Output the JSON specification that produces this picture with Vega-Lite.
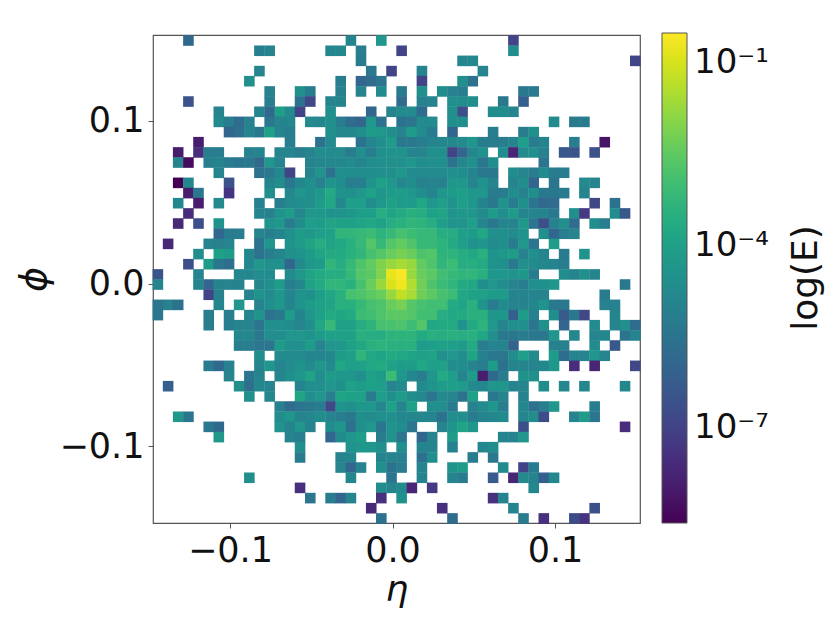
{"$schema":"https://vega.github.io/schema/vega-lite/v6.json","width":487,"height":488,"autosize":{"type":"none"},"padding":{"left":153,"top":35,"right":190,"bottom":119},"background":"white","view":{"stroke":"#555","strokeWidth":1.2,"fill":"white"},"data":{"values":[
{"x":-0.1256,"y":0.1494,"e":-5.9},{"x":-0.0256,"y":0.1494,"e":-5},{"x":-0.0069,"y":0.1494,"e":-4.4},{"x":0.0744,"y":0.1494,"e":-7},
{"x":-0.0819,"y":0.1431,"e":-5.2},{"x":-0.0756,"y":0.1431,"e":-5},{"x":-0.0381,"y":0.1431,"e":-4.9},{"x":-0.0319,"y":0.1431,"e":-4.9},{"x":-0.0194,"y":0.1431,"e":-5.2},{"x":0.0056,"y":0.1431,"e":-7},{"x":0.0744,"y":0.1431,"e":-4.7},
{"x":-0.0194,"y":0.1369,"e":-5.3},{"x":0.0431,"y":0.1369,"e":-4.9},{"x":0.0494,"y":0.1369,"e":-4.9},{"x":0.1494,"y":0.1369,"e":-7},
{"x":-0.0819,"y":0.1306,"e":-5},{"x":-0.0131,"y":0.1306,"e":-5.4},{"x":-0.0006,"y":0.1306,"e":-7},{"x":0.0181,"y":0.1306,"e":-5},{"x":0.0556,"y":0.1306,"e":-5},
{"x":-0.0881,"y":0.1244,"e":-4.6},{"x":-0.0319,"y":0.1244,"e":-5.2},{"x":-0.0194,"y":0.1244,"e":-6},{"x":-0.0131,"y":0.1244,"e":-5.8},{"x":-0.0069,"y":0.1244,"e":-5.5},{"x":0.0181,"y":0.1244,"e":-7},{"x":0.0431,"y":0.1244,"e":-4.6},{"x":0.0494,"y":0.1244,"e":-5.6},
{"x":-0.0756,"y":0.1181,"e":-5.1},{"x":-0.0569,"y":0.1181,"e":-4.6},{"x":-0.0506,"y":0.1181,"e":-5.3},{"x":-0.0319,"y":0.1181,"e":-5.1},{"x":-0.0194,"y":0.1181,"e":-5},{"x":-0.0069,"y":0.1181,"e":-4.8},{"x":0.0056,"y":0.1181,"e":-5.3},{"x":0.0181,"y":0.1181,"e":-4.6},{"x":0.0306,"y":0.1181,"e":-4.7},{"x":0.0369,"y":0.1181,"e":-5.1},{"x":0.0431,"y":0.1181,"e":-5.2},{"x":0.0806,"y":0.1181,"e":-5.4},{"x":0.0869,"y":0.1181,"e":-5.3},
{"x":-0.1256,"y":0.1119,"e":-6.6},{"x":-0.0756,"y":0.1119,"e":-5.2},{"x":-0.0569,"y":0.1119,"e":-5.6},{"x":-0.0506,"y":0.1119,"e":-6.9},{"x":-0.0381,"y":0.1119,"e":-5},{"x":-0.0319,"y":0.1119,"e":-5},{"x":0.0056,"y":0.1119,"e":-5.8},{"x":0.0181,"y":0.1119,"e":-5.1},{"x":0.0244,"y":0.1119,"e":-5},{"x":0.0369,"y":0.1119,"e":-4.6},{"x":0.0431,"y":0.1119,"e":-4.7},{"x":0.0494,"y":0.1119,"e":-4.7},{"x":0.0681,"y":0.1119,"e":-5.4},{"x":0.0806,"y":0.1119,"e":-6.2},
{"x":-0.1069,"y":0.1056,"e":-5},{"x":-0.0819,"y":0.1056,"e":-5},{"x":-0.0756,"y":0.1056,"e":-5.9},{"x":-0.0694,"y":0.1056,"e":-4.1},{"x":-0.0631,"y":0.1056,"e":-4.8},{"x":-0.0569,"y":0.1056,"e":-7},{"x":-0.0381,"y":0.1056,"e":-4.6},{"x":-0.0131,"y":0.1056,"e":-6},{"x":-0.0006,"y":0.1056,"e":-5},{"x":0.0056,"y":0.1056,"e":-4.8},{"x":0.0119,"y":0.1056,"e":-4.8},{"x":0.0181,"y":0.1056,"e":-5.8},{"x":0.0369,"y":0.1056,"e":-4.6},{"x":0.0431,"y":0.1056,"e":-6.7},{"x":0.0619,"y":0.1056,"e":-4.7},{"x":0.0681,"y":0.1056,"e":-4.7},{"x":0.0744,"y":0.1056,"e":-5},
{"x":-0.1069,"y":0.0994,"e":-4.8},{"x":-0.1006,"y":0.0994,"e":-5.2},{"x":-0.0944,"y":0.0994,"e":-5.8},{"x":-0.0881,"y":0.0994,"e":-5.1},{"x":-0.0756,"y":0.0994,"e":-5.5},{"x":-0.0694,"y":0.0994,"e":-5},{"x":-0.0631,"y":0.0994,"e":-4.9},{"x":-0.0506,"y":0.0994,"e":-4.8},{"x":-0.0444,"y":0.0994,"e":-4.9},{"x":-0.0381,"y":0.0994,"e":-4.6},{"x":-0.0319,"y":0.0994,"e":-5.3},{"x":-0.0256,"y":0.0994,"e":-5.8},{"x":-0.0194,"y":0.0994,"e":-6},{"x":-0.0131,"y":0.0994,"e":-4.4},{"x":-0.0069,"y":0.0994,"e":-5.6},{"x":0.0056,"y":0.0994,"e":-5.6},{"x":0.0119,"y":0.0994,"e":-5.5},{"x":0.0181,"y":0.0994,"e":-4.8},{"x":0.0244,"y":0.0994,"e":-4.8},{"x":0.0369,"y":0.0994,"e":-4.6},{"x":0.0431,"y":0.0994,"e":-4.6},{"x":0.0994,"y":0.0994,"e":-4.8},{"x":0.1119,"y":0.0994,"e":-5.3},{"x":0.1181,"y":0.0994,"e":-5.3},
{"x":-0.1006,"y":0.0931,"e":-6},{"x":-0.0944,"y":0.0931,"e":-5.7},{"x":-0.0881,"y":0.0931,"e":-5},{"x":-0.0819,"y":0.0931,"e":-5.4},{"x":-0.0756,"y":0.0931,"e":-4},{"x":-0.0694,"y":0.0931,"e":-5},{"x":-0.0631,"y":0.0931,"e":-5.2},{"x":-0.0381,"y":0.0931,"e":-4.6},{"x":-0.0319,"y":0.0931,"e":-4.9},{"x":-0.0256,"y":0.0931,"e":-4.9},{"x":-0.0194,"y":0.0931,"e":-4.7},{"x":-0.0131,"y":0.0931,"e":-4.2},{"x":-0.0069,"y":0.0931,"e":-4.3},{"x":-0.0006,"y":0.0931,"e":-4.7},{"x":0.0056,"y":0.0931,"e":-5},{"x":0.0119,"y":0.0931,"e":-4.2},{"x":0.0181,"y":0.0931,"e":-4.8},{"x":0.0244,"y":0.0931,"e":-5.3},{"x":0.0369,"y":0.0931,"e":-6},{"x":0.0619,"y":0.0931,"e":-5.2},{"x":0.0806,"y":0.0931,"e":-5.3},{"x":0.0869,"y":0.0931,"e":-4.6},
{"x":-0.1194,"y":0.0869,"e":-8},{"x":-0.0631,"y":0.0869,"e":-5.2},{"x":-0.0444,"y":0.0869,"e":-5.6},{"x":-0.0381,"y":0.0869,"e":-4.8},{"x":-0.0194,"y":0.0869,"e":-5.6},{"x":-0.0131,"y":0.0869,"e":-5},{"x":-0.0069,"y":0.0869,"e":-4.6},{"x":-0.0006,"y":0.0869,"e":-4.2},{"x":0.0056,"y":0.0869,"e":-5.4},{"x":0.0119,"y":0.0869,"e":-5.4},{"x":0.0181,"y":0.0869,"e":-5.2},{"x":0.0244,"y":0.0869,"e":-5},{"x":0.0306,"y":0.0869,"e":-4.9},{"x":0.0369,"y":0.0869,"e":-4.9},{"x":0.0431,"y":0.0869,"e":-4.8},{"x":0.0494,"y":0.0869,"e":-4.4},{"x":0.0556,"y":0.0869,"e":-5.3},{"x":0.0619,"y":0.0869,"e":-5.3},{"x":0.0681,"y":0.0869,"e":-5.2},{"x":0.0744,"y":0.0869,"e":-5},{"x":0.0806,"y":0.0869,"e":-4.1},{"x":0.0869,"y":0.0869,"e":-5.3},{"x":0.0931,"y":0.0869,"e":-5},{"x":0.1119,"y":0.0869,"e":-5.2},{"x":0.1306,"y":0.0869,"e":-8.2},
{"x":-0.1319,"y":0.0806,"e":-8},{"x":-0.1194,"y":0.0806,"e":-7.6},{"x":-0.1131,"y":0.0806,"e":-5.2},{"x":-0.1069,"y":0.0806,"e":-5.2},{"x":-0.0881,"y":0.0806,"e":-5.1},{"x":-0.0819,"y":0.0806,"e":-5},{"x":-0.0694,"y":0.0806,"e":-5},{"x":-0.0631,"y":0.0806,"e":-5},{"x":-0.0569,"y":0.0806,"e":-5.2},{"x":-0.0506,"y":0.0806,"e":-5},{"x":-0.0444,"y":0.0806,"e":-4.7},{"x":-0.0381,"y":0.0806,"e":-4.8},{"x":-0.0319,"y":0.0806,"e":-4.8},{"x":-0.0256,"y":0.0806,"e":-5.3},{"x":-0.0194,"y":0.0806,"e":-4.7},{"x":-0.0131,"y":0.0806,"e":-5.2},{"x":-0.0069,"y":0.0806,"e":-4.6},{"x":-0.0006,"y":0.0806,"e":-4.5},{"x":0.0056,"y":0.0806,"e":-4.5},{"x":0.0119,"y":0.0806,"e":-5},{"x":0.0181,"y":0.0806,"e":-5},{"x":0.0244,"y":0.0806,"e":-4.6},{"x":0.0306,"y":0.0806,"e":-4.6},{"x":0.0369,"y":0.0806,"e":-7},{"x":0.0431,"y":0.0806,"e":-6},{"x":0.0494,"y":0.0806,"e":-4.9},{"x":0.0556,"y":0.0806,"e":-4.5},{"x":0.0681,"y":0.0806,"e":-4.7},{"x":0.0744,"y":0.0806,"e":-7.8},{"x":0.0806,"y":0.0806,"e":-4.8},{"x":0.0869,"y":0.0806,"e":-4.6},{"x":0.0931,"y":0.0806,"e":-5.1},{"x":0.1056,"y":0.0806,"e":-6.4},{"x":0.1119,"y":0.0806,"e":-6.6},{"x":0.1244,"y":0.0806,"e":-6.6},
{"x":-0.1319,"y":0.0744,"e":-5},{"x":-0.1256,"y":0.0744,"e":-8.4},{"x":-0.1131,"y":0.0744,"e":-5.2},{"x":-0.1069,"y":0.0744,"e":-5},{"x":-0.1006,"y":0.0744,"e":-5.3},{"x":-0.0944,"y":0.0744,"e":-5.5},{"x":-0.0881,"y":0.0744,"e":-5.4},{"x":-0.0819,"y":0.0744,"e":-5.9},{"x":-0.0756,"y":0.0744,"e":-4.4},{"x":-0.0694,"y":0.0744,"e":-5},{"x":-0.0506,"y":0.0744,"e":-5},{"x":-0.0444,"y":0.0744,"e":-4.9},{"x":-0.0381,"y":0.0744,"e":-4.9},{"x":-0.0319,"y":0.0744,"e":-4.9},{"x":-0.0256,"y":0.0744,"e":-4.8},{"x":-0.0194,"y":0.0744,"e":-5},{"x":-0.0131,"y":0.0744,"e":-4.7},{"x":-0.0069,"y":0.0744,"e":-4.6},{"x":-0.0006,"y":0.0744,"e":-4.6},{"x":0.0056,"y":0.0744,"e":-4.6},{"x":0.0119,"y":0.0744,"e":-4.4},{"x":0.0181,"y":0.0744,"e":-4.7},{"x":0.0244,"y":0.0744,"e":-4.6},{"x":0.0306,"y":0.0744,"e":-4.6},{"x":0.0369,"y":0.0744,"e":-5.6},{"x":0.0431,"y":0.0744,"e":-4.9},{"x":0.0494,"y":0.0744,"e":-4.6},{"x":0.0556,"y":0.0744,"e":-5.5},{"x":0.0619,"y":0.0744,"e":-4.7},{"x":0.0931,"y":0.0744,"e":-5.5},
{"x":-0.1069,"y":0.0681,"e":-5},{"x":-0.0819,"y":0.0681,"e":-5.6},{"x":-0.0756,"y":0.0681,"e":-5.4},{"x":-0.0694,"y":0.0681,"e":-4.9},{"x":-0.0631,"y":0.0681,"e":-7},{"x":-0.0506,"y":0.0681,"e":-5},{"x":-0.0444,"y":0.0681,"e":-4.5},{"x":-0.0381,"y":0.0681,"e":-5.6},{"x":-0.0319,"y":0.0681,"e":-4.6},{"x":-0.0256,"y":0.0681,"e":-4.7},{"x":-0.0194,"y":0.0681,"e":-4.7},{"x":-0.0131,"y":0.0681,"e":-4.7},{"x":-0.0069,"y":0.0681,"e":-4.6},{"x":-0.0006,"y":0.0681,"e":-4.6},{"x":0.0056,"y":0.0681,"e":-4.3},{"x":0.0119,"y":0.0681,"e":-4.8},{"x":0.0181,"y":0.0681,"e":-4.8},{"x":0.0244,"y":0.0681,"e":-4.8},{"x":0.0306,"y":0.0681,"e":-4.8},{"x":0.0369,"y":0.0681,"e":-4.6},{"x":0.0431,"y":0.0681,"e":-4.7},{"x":0.0494,"y":0.0681,"e":-5},{"x":0.0556,"y":0.0681,"e":-5.4},{"x":0.0619,"y":0.0681,"e":-5.4},{"x":0.0744,"y":0.0681,"e":-4.7},{"x":0.0806,"y":0.0681,"e":-5},{"x":0.0869,"y":0.0681,"e":-5.2},{"x":0.0931,"y":0.0681,"e":-4.8},{"x":0.0994,"y":0.0681,"e":-5.3},{"x":0.1056,"y":0.0681,"e":-5.2},
{"x":-0.1319,"y":0.0619,"e":-8.6},{"x":-0.1256,"y":0.0619,"e":-4.9},{"x":-0.1006,"y":0.0619,"e":-6.6},{"x":-0.0756,"y":0.0619,"e":-5},{"x":-0.0694,"y":0.0619,"e":-4.7},{"x":-0.0631,"y":0.0619,"e":-5.5},{"x":-0.0569,"y":0.0619,"e":-4.9},{"x":-0.0506,"y":0.0619,"e":-4.6},{"x":-0.0444,"y":0.0619,"e":-5.1},{"x":-0.0381,"y":0.0619,"e":-4.5},{"x":-0.0319,"y":0.0619,"e":-4.7},{"x":-0.0256,"y":0.0619,"e":-5.2},{"x":-0.0194,"y":0.0619,"e":-5.2},{"x":-0.0131,"y":0.0619,"e":-4.5},{"x":-0.0069,"y":0.0619,"e":-4},{"x":-0.0006,"y":0.0619,"e":-4.4},{"x":0.0056,"y":0.0619,"e":-4.9},{"x":0.0119,"y":0.0619,"e":-4.7},{"x":0.0181,"y":0.0619,"e":-5.1},{"x":0.0244,"y":0.0619,"e":-5},{"x":0.0306,"y":0.0619,"e":-5.1},{"x":0.0369,"y":0.0619,"e":-4.4},{"x":0.0431,"y":0.0619,"e":-4.4},{"x":0.0494,"y":0.0619,"e":-5},{"x":0.0556,"y":0.0619,"e":-4.5},{"x":0.0619,"y":0.0619,"e":-5},{"x":0.0744,"y":0.0619,"e":-5},{"x":0.0806,"y":0.0619,"e":-4.7},{"x":0.0869,"y":0.0619,"e":-6},{"x":0.0994,"y":0.0619,"e":-5.5},{"x":0.1181,"y":0.0619,"e":-4.8},{"x":0.1244,"y":0.0619,"e":-5},
{"x":-0.1256,"y":0.0556,"e":-8},{"x":-0.1194,"y":0.0556,"e":-5.4},{"x":-0.1006,"y":0.0556,"e":-7.4},{"x":-0.0756,"y":0.0556,"e":-4.6},{"x":-0.0631,"y":0.0556,"e":-4.9},{"x":-0.0569,"y":0.0556,"e":-4.4},{"x":-0.0506,"y":0.0556,"e":-4.6},{"x":-0.0444,"y":0.0556,"e":-4.3},{"x":-0.0381,"y":0.0556,"e":-3.7},{"x":-0.0319,"y":0.0556,"e":-4.5},{"x":-0.0256,"y":0.0556,"e":-4.6},{"x":-0.0194,"y":0.0556,"e":-4.4},{"x":-0.0131,"y":0.0556,"e":-4},{"x":-0.0069,"y":0.0556,"e":-4.4},{"x":-0.0006,"y":0.0556,"e":-4.2},{"x":0.0056,"y":0.0556,"e":-4.2},{"x":0.0119,"y":0.0556,"e":-4.4},{"x":0.0181,"y":0.0556,"e":-4.7},{"x":0.0244,"y":0.0556,"e":-5},{"x":0.0306,"y":0.0556,"e":-4.4},{"x":0.0369,"y":0.0556,"e":-4.2},{"x":0.0431,"y":0.0556,"e":-4.1},{"x":0.0494,"y":0.0556,"e":-4.4},{"x":0.0556,"y":0.0556,"e":-4.4},{"x":0.0619,"y":0.0556,"e":-5.3},{"x":0.0681,"y":0.0556,"e":-5.3},{"x":0.0744,"y":0.0556,"e":-4.7},{"x":0.0806,"y":0.0556,"e":-5.1},{"x":0.0869,"y":0.0556,"e":-4.6},{"x":0.0931,"y":0.0556,"e":-5.4},{"x":0.0994,"y":0.0556,"e":-5.4},{"x":0.1056,"y":0.0556,"e":-5.3},{"x":0.1181,"y":0.0556,"e":-5},
{"x":-0.1319,"y":0.0494,"e":-4.9},{"x":-0.1194,"y":0.0494,"e":-8},{"x":-0.1069,"y":0.0494,"e":-4.8},{"x":-0.0819,"y":0.0494,"e":-5.1},{"x":-0.0694,"y":0.0494,"e":-5.2},{"x":-0.0631,"y":0.0494,"e":-4.8},{"x":-0.0569,"y":0.0494,"e":-4.7},{"x":-0.0506,"y":0.0494,"e":-4.6},{"x":-0.0444,"y":0.0494,"e":-4.2},{"x":-0.0381,"y":0.0494,"e":-3.8},{"x":-0.0319,"y":0.0494,"e":-4.9},{"x":-0.0256,"y":0.0494,"e":-4.1},{"x":-0.0194,"y":0.0494,"e":-4.1},{"x":-0.0131,"y":0.0494,"e":-4.7},{"x":-0.0069,"y":0.0494,"e":-4.3},{"x":-0.0006,"y":0.0494,"e":-4},{"x":0.0056,"y":0.0494,"e":-4.2},{"x":0.0119,"y":0.0494,"e":-4.2},{"x":0.0181,"y":0.0494,"e":-3.8},{"x":0.0244,"y":0.0494,"e":-4.4},{"x":0.0306,"y":0.0494,"e":-4.1},{"x":0.0369,"y":0.0494,"e":-4.5},{"x":0.0431,"y":0.0494,"e":-4.1},{"x":0.0494,"y":0.0494,"e":-4.4},{"x":0.0556,"y":0.0494,"e":-5},{"x":0.0619,"y":0.0494,"e":-5.4},{"x":0.0681,"y":0.0494,"e":-4.5},{"x":0.0744,"y":0.0494,"e":-5.2},{"x":0.0806,"y":0.0494,"e":-4.6},{"x":0.0869,"y":0.0494,"e":-5.5},{"x":0.0931,"y":0.0494,"e":-5.9},{"x":0.0994,"y":0.0494,"e":-5.8},{"x":0.1244,"y":0.0494,"e":-6.9},{"x":0.1369,"y":0.0494,"e":-5.6},
{"x":-0.1256,"y":0.0431,"e":-7.6},{"x":-0.0819,"y":0.0431,"e":-5},{"x":-0.0756,"y":0.0431,"e":-5.1},{"x":-0.0694,"y":0.0431,"e":-4.5},{"x":-0.0631,"y":0.0431,"e":-4.2},{"x":-0.0569,"y":0.0431,"e":-4.9},{"x":-0.0506,"y":0.0431,"e":-4.3},{"x":-0.0444,"y":0.0431,"e":-4.3},{"x":-0.0381,"y":0.0431,"e":-4.5},{"x":-0.0319,"y":0.0431,"e":-4.5},{"x":-0.0256,"y":0.0431,"e":-4.3},{"x":-0.0194,"y":0.0431,"e":-4.1},{"x":-0.0131,"y":0.0431,"e":-4.1},{"x":-0.0069,"y":0.0431,"e":-3.6},{"x":-0.0006,"y":0.0431,"e":-3.9},{"x":0.0056,"y":0.0431,"e":-3.7},{"x":0.0119,"y":0.0431,"e":-3.5},{"x":0.0181,"y":0.0431,"e":-3.6},{"x":0.0244,"y":0.0431,"e":-4},{"x":0.0306,"y":0.0431,"e":-3.9},{"x":0.0369,"y":0.0431,"e":-4.5},{"x":0.0431,"y":0.0431,"e":-4.3},{"x":0.0494,"y":0.0431,"e":-4.4},{"x":0.0556,"y":0.0431,"e":-4.8},{"x":0.0619,"y":0.0431,"e":-4.2},{"x":0.0681,"y":0.0431,"e":-4.7},{"x":0.0744,"y":0.0431,"e":-4.2},{"x":0.0806,"y":0.0431,"e":-5},{"x":0.0869,"y":0.0431,"e":-5},{"x":0.0931,"y":0.0431,"e":-5},{"x":0.0994,"y":0.0431,"e":-5.4},{"x":0.1119,"y":0.0431,"e":-4.6},{"x":0.1181,"y":0.0431,"e":-7.3},{"x":0.1369,"y":0.0431,"e":-4.7},{"x":0.1431,"y":0.0431,"e":-6.4},
{"x":-0.1319,"y":0.0369,"e":-7.7},{"x":-0.1194,"y":0.0369,"e":-6.7},{"x":-0.1069,"y":0.0369,"e":-4.5},{"x":-0.0756,"y":0.0369,"e":-4.5},{"x":-0.0694,"y":0.0369,"e":-4.3},{"x":-0.0631,"y":0.0369,"e":-5.3},{"x":-0.0569,"y":0.0369,"e":-4.7},{"x":-0.0506,"y":0.0369,"e":-4.1},{"x":-0.0444,"y":0.0369,"e":-4.2},{"x":-0.0381,"y":0.0369,"e":-3.9},{"x":-0.0319,"y":0.0369,"e":-4},{"x":-0.0256,"y":0.0369,"e":-4},{"x":-0.0194,"y":0.0369,"e":-3.9},{"x":-0.0131,"y":0.0369,"e":-3.8},{"x":-0.0069,"y":0.0369,"e":-4},{"x":-0.0006,"y":0.0369,"e":-3.6},{"x":0.0056,"y":0.0369,"e":-3.5},{"x":0.0119,"y":0.0369,"e":-3.3},{"x":0.0181,"y":0.0369,"e":-3.4},{"x":0.0244,"y":0.0369,"e":-3.6},{"x":0.0306,"y":0.0369,"e":-4.1},{"x":0.0369,"y":0.0369,"e":-4.5},{"x":0.0431,"y":0.0369,"e":-4.5},{"x":0.0494,"y":0.0369,"e":-4.1},{"x":0.0556,"y":0.0369,"e":-5},{"x":0.0619,"y":0.0369,"e":-5.4},{"x":0.0681,"y":0.0369,"e":-5},{"x":0.0744,"y":0.0369,"e":-5},{"x":0.0806,"y":0.0369,"e":-4.3},{"x":0.0869,"y":0.0369,"e":-5.5},{"x":0.0931,"y":0.0369,"e":-6.7},{"x":0.0994,"y":0.0369,"e":-5.1},{"x":0.1056,"y":0.0369,"e":-4.6},{"x":0.1119,"y":0.0369,"e":-5.8},{"x":0.1244,"y":0.0369,"e":-4.7},{"x":0.1306,"y":0.0369,"e":-5.2},
{"x":-0.1069,"y":0.0306,"e":-6},{"x":-0.1006,"y":0.0306,"e":-5.3},{"x":-0.0944,"y":0.0306,"e":-5.2},{"x":-0.0819,"y":0.0306,"e":-5},{"x":-0.0756,"y":0.0306,"e":-5.2},{"x":-0.0694,"y":0.0306,"e":-5},{"x":-0.0631,"y":0.0306,"e":-4.6},{"x":-0.0569,"y":0.0306,"e":-4.2},{"x":-0.0506,"y":0.0306,"e":-4.3},{"x":-0.0444,"y":0.0306,"e":-4.1},{"x":-0.0381,"y":0.0306,"e":-4},{"x":-0.0319,"y":0.0306,"e":-3.3},{"x":-0.0256,"y":0.0306,"e":-3.3},{"x":-0.0194,"y":0.0306,"e":-3.2},{"x":-0.0131,"y":0.0306,"e":-3.1},{"x":-0.0069,"y":0.0306,"e":-3.4},{"x":-0.0006,"y":0.0306,"e":-3.2},{"x":0.0056,"y":0.0306,"e":-2.9},{"x":0.0119,"y":0.0306,"e":-3.1},{"x":0.0181,"y":0.0306,"e":-3.2},{"x":0.0244,"y":0.0306,"e":-3.2},{"x":0.0306,"y":0.0306,"e":-3.6},{"x":0.0369,"y":0.0306,"e":-3.6},{"x":0.0431,"y":0.0306,"e":-4.1},{"x":0.0494,"y":0.0306,"e":-4.2},{"x":0.0556,"y":0.0306,"e":-3.8},{"x":0.0619,"y":0.0306,"e":-4.6},{"x":0.0681,"y":0.0306,"e":-4.6},{"x":0.0744,"y":0.0306,"e":-4.8},{"x":0.0806,"y":0.0306,"e":-4.5},{"x":0.0931,"y":0.0306,"e":-4.6},{"x":0.0994,"y":0.0306,"e":-6},{"x":0.1056,"y":0.0306,"e":-5.2},{"x":0.1119,"y":0.0306,"e":-5},
{"x":-0.1381,"y":0.0244,"e":-7.7},{"x":-0.1131,"y":0.0244,"e":-5},{"x":-0.1069,"y":0.0244,"e":-5.1},{"x":-0.1006,"y":0.0244,"e":-5},{"x":-0.0819,"y":0.0244,"e":-5.6},{"x":-0.0756,"y":0.0244,"e":-4.4},{"x":-0.0631,"y":0.0244,"e":-4.5},{"x":-0.0569,"y":0.0244,"e":-4.2},{"x":-0.0506,"y":0.0244,"e":-3.9},{"x":-0.0444,"y":0.0244,"e":-3.6},{"x":-0.0381,"y":0.0244,"e":-3.9},{"x":-0.0319,"y":0.0244,"e":-3.8},{"x":-0.0256,"y":0.0244,"e":-3.5},{"x":-0.0194,"y":0.0244,"e":-3.2},{"x":-0.0131,"y":0.0244,"e":-2.7},{"x":-0.0069,"y":0.0244,"e":-3.2},{"x":-0.0006,"y":0.0244,"e":-2.7},{"x":0.0056,"y":0.0244,"e":-2.5},{"x":0.0119,"y":0.0244,"e":-2.8},{"x":0.0181,"y":0.0244,"e":-3.2},{"x":0.0244,"y":0.0244,"e":-3.2},{"x":0.0306,"y":0.0244,"e":-3.4},{"x":0.0369,"y":0.0244,"e":-3.7},{"x":0.0431,"y":0.0244,"e":-4.1},{"x":0.0494,"y":0.0244,"e":-4.5},{"x":0.0556,"y":0.0244,"e":-4.4},{"x":0.0619,"y":0.0244,"e":-4.8},{"x":0.0681,"y":0.0244,"e":-4.6},{"x":0.0744,"y":0.0244,"e":-5.3},{"x":0.0806,"y":0.0244,"e":-4.4},{"x":0.0869,"y":0.0244,"e":-5.5},{"x":0.0994,"y":0.0244,"e":-4.2},
{"x":-0.1194,"y":0.0181,"e":-4.7},{"x":-0.1069,"y":0.0181,"e":-4},{"x":-0.1006,"y":0.0181,"e":-4.2},{"x":-0.0881,"y":0.0181,"e":-4.9},{"x":-0.0819,"y":0.0181,"e":-5.6},{"x":-0.0756,"y":0.0181,"e":-5.2},{"x":-0.0694,"y":0.0181,"e":-5},{"x":-0.0631,"y":0.0181,"e":-4.6},{"x":-0.0569,"y":0.0181,"e":-4.5},{"x":-0.0506,"y":0.0181,"e":-4.2},{"x":-0.0444,"y":0.0181,"e":-3.9},{"x":-0.0381,"y":0.0181,"e":-3.7},{"x":-0.0319,"y":0.0181,"e":-3.7},{"x":-0.0256,"y":0.0181,"e":-3.5},{"x":-0.0194,"y":0.0181,"e":-3.3},{"x":-0.0131,"y":0.0181,"e":-2.9},{"x":-0.0069,"y":0.0181,"e":-2.7},{"x":-0.0006,"y":0.0181,"e":-2.4},{"x":0.0056,"y":0.0181,"e":-2.2},{"x":0.0119,"y":0.0181,"e":-2.4},{"x":0.0181,"y":0.0181,"e":-2.8},{"x":0.0244,"y":0.0181,"e":-2.7},{"x":0.0306,"y":0.0181,"e":-3.4},{"x":0.0369,"y":0.0181,"e":-3.4},{"x":0.0431,"y":0.0181,"e":-3.6},{"x":0.0494,"y":0.0181,"e":-3.8},{"x":0.0556,"y":0.0181,"e":-3.5},{"x":0.0619,"y":0.0181,"e":-4.5},{"x":0.0681,"y":0.0181,"e":-4.3},{"x":0.0744,"y":0.0181,"e":-4.2},{"x":0.0806,"y":0.0181,"e":-5.1},{"x":0.0869,"y":0.0181,"e":-4.6},{"x":0.0931,"y":0.0181,"e":-5},{"x":0.1056,"y":0.0181,"e":-5.3},{"x":0.1181,"y":0.0181,"e":-4.5},
{"x":-0.1256,"y":0.0119,"e":-6.7},{"x":-0.1131,"y":0.0119,"e":-4.2},{"x":-0.1069,"y":0.0119,"e":-5.5},{"x":-0.1006,"y":0.0119,"e":-5.7},{"x":-0.0881,"y":0.0119,"e":-4.9},{"x":-0.0819,"y":0.0119,"e":-4.4},{"x":-0.0756,"y":0.0119,"e":-4.6},{"x":-0.0694,"y":0.0119,"e":-4.6},{"x":-0.0631,"y":0.0119,"e":-6},{"x":-0.0569,"y":0.0119,"e":-4.8},{"x":-0.0506,"y":0.0119,"e":-4.3},{"x":-0.0444,"y":0.0119,"e":-4.2},{"x":-0.0381,"y":0.0119,"e":-3.3},{"x":-0.0319,"y":0.0119,"e":-3.6},{"x":-0.0256,"y":0.0119,"e":-3.2},{"x":-0.0194,"y":0.0119,"e":-2.8},{"x":-0.0131,"y":0.0119,"e":-2.5},{"x":-0.0069,"y":0.0119,"e":-2.1},{"x":-0.0006,"y":0.0119,"e":-1.8},{"x":0.0056,"y":0.0119,"e":-1.6},{"x":0.0119,"y":0.0119,"e":-1.8},{"x":0.0181,"y":0.0119,"e":-2.5},{"x":0.0244,"y":0.0119,"e":-2.8},{"x":0.0306,"y":0.0119,"e":-3.3},{"x":0.0369,"y":0.0119,"e":-3.1},{"x":0.0431,"y":0.0119,"e":-3.6},{"x":0.0494,"y":0.0119,"e":-3.6},{"x":0.0556,"y":0.0119,"e":-3.7},{"x":0.0619,"y":0.0119,"e":-4.5},{"x":0.0681,"y":0.0119,"e":-4.6},{"x":0.0744,"y":0.0119,"e":-5.4},{"x":0.0806,"y":0.0119,"e":-4.6},{"x":0.0869,"y":0.0119,"e":-4.8},{"x":0.0931,"y":0.0119,"e":-4.9},{"x":0.0994,"y":0.0119,"e":-5},{"x":0.1056,"y":0.0119,"e":-5.2},
{"x":-0.1444,"y":0.0056,"e":-6.5},{"x":-0.1194,"y":0.0056,"e":-5},{"x":-0.0944,"y":0.0056,"e":-4.9},{"x":-0.0881,"y":0.0056,"e":-4.9},{"x":-0.0819,"y":0.0056,"e":-4.7},{"x":-0.0756,"y":0.0056,"e":-4.8},{"x":-0.0631,"y":0.0056,"e":-4.8},{"x":-0.0569,"y":0.0056,"e":-4.3},{"x":-0.0506,"y":0.0056,"e":-3.9},{"x":-0.0444,"y":0.0056,"e":-3.7},{"x":-0.0381,"y":0.0056,"e":-3.6},{"x":-0.0319,"y":0.0056,"e":-3.6},{"x":-0.0256,"y":0.0056,"e":-3.2},{"x":-0.0194,"y":0.0056,"e":-2.7},{"x":-0.0131,"y":0.0056,"e":-2.6},{"x":-0.0069,"y":0.0056,"e":-2.1},{"x":-0.0006,"y":0.0056,"e":-0.8},{"x":0.0056,"y":0.0056,"e":-0.6},{"x":0.0119,"y":0.0056,"e":-1.8},{"x":0.0181,"y":0.0056,"e":-2.4},{"x":0.0244,"y":0.0056,"e":-2.6},{"x":0.0306,"y":0.0056,"e":-3},{"x":0.0369,"y":0.0056,"e":-3.2},{"x":0.0431,"y":0.0056,"e":-3.3},{"x":0.0494,"y":0.0056,"e":-3.3},{"x":0.0556,"y":0.0056,"e":-3.5},{"x":0.0619,"y":0.0056,"e":-4.4},{"x":0.0681,"y":0.0056,"e":-4.3},{"x":0.0744,"y":0.0056,"e":-4.5},{"x":0.0806,"y":0.0056,"e":-4.3},{"x":0.0869,"y":0.0056,"e":-5.3},{"x":0.1056,"y":0.0056,"e":-4.7},{"x":0.1119,"y":0.0056,"e":-5},{"x":0.1181,"y":0.0056,"e":-4.6},{"x":0.1244,"y":0.0056,"e":-5},
{"x":-0.1444,"y":-0.0006,"e":-5},{"x":-0.1194,"y":-0.0006,"e":-5},{"x":-0.1131,"y":-0.0006,"e":-6},{"x":-0.1069,"y":-0.0006,"e":-5},{"x":-0.1006,"y":-0.0006,"e":-5},{"x":-0.0944,"y":-0.0006,"e":-5},{"x":-0.0819,"y":-0.0006,"e":-5},{"x":-0.0756,"y":-0.0006,"e":-4.6},{"x":-0.0694,"y":-0.0006,"e":-4.2},{"x":-0.0631,"y":-0.0006,"e":-5.2},{"x":-0.0569,"y":-0.0006,"e":-4.9},{"x":-0.0506,"y":-0.0006,"e":-4},{"x":-0.0444,"y":-0.0006,"e":-3.7},{"x":-0.0381,"y":-0.0006,"e":-3.3},{"x":-0.0319,"y":-0.0006,"e":-3.3},{"x":-0.0256,"y":-0.0006,"e":-3.5},{"x":-0.0194,"y":-0.0006,"e":-2.9},{"x":-0.0131,"y":-0.0006,"e":-2.4},{"x":-0.0069,"y":-0.0006,"e":-1.8},{"x":-0.0006,"y":-0.0006,"e":-1},{"x":0.0056,"y":-0.0006,"e":-0.7},{"x":0.0119,"y":-0.0006,"e":-1.5},{"x":0.0181,"y":-0.0006,"e":-2.3},{"x":0.0244,"y":-0.0006,"e":-2.8},{"x":0.0306,"y":-0.0006,"e":-3.1},{"x":0.0369,"y":-0.0006,"e":-3.3},{"x":0.0431,"y":-0.0006,"e":-3.7},{"x":0.0494,"y":-0.0006,"e":-3.8},{"x":0.0556,"y":-0.0006,"e":-4.7},{"x":0.0619,"y":-0.0006,"e":-4.4},{"x":0.0681,"y":-0.0006,"e":-4.7},{"x":0.0744,"y":-0.0006,"e":-5},{"x":0.0806,"y":-0.0006,"e":-5.2},{"x":0.0869,"y":-0.0006,"e":-4.6},{"x":0.0931,"y":-0.0006,"e":-4.6},{"x":0.0994,"y":-0.0006,"e":-4.3},{"x":0.1431,"y":-0.0006,"e":-5.4},
{"x":-0.1131,"y":-0.0069,"e":-7},{"x":-0.1069,"y":-0.0069,"e":-5.1},{"x":-0.0881,"y":-0.0069,"e":-5},{"x":-0.0819,"y":-0.0069,"e":-4.5},{"x":-0.0756,"y":-0.0069,"e":-4.8},{"x":-0.0694,"y":-0.0069,"e":-4.3},{"x":-0.0631,"y":-0.0069,"e":-5},{"x":-0.0569,"y":-0.0069,"e":-4.5},{"x":-0.0506,"y":-0.0069,"e":-4.6},{"x":-0.0444,"y":-0.0069,"e":-4.1},{"x":-0.0381,"y":-0.0069,"e":-3.8},{"x":-0.0319,"y":-0.0069,"e":-3.5},{"x":-0.0256,"y":-0.0069,"e":-2.9},{"x":-0.0194,"y":-0.0069,"e":-2.8},{"x":-0.0131,"y":-0.0069,"e":-2.6},{"x":-0.0069,"y":-0.0069,"e":-2.4},{"x":-0.0006,"y":-0.0069,"e":-1.8},{"x":0.0056,"y":-0.0069,"e":-1.3},{"x":0.0119,"y":-0.0069,"e":-1.6},{"x":0.0181,"y":-0.0069,"e":-2.3},{"x":0.0244,"y":-0.0069,"e":-2.6},{"x":0.0306,"y":-0.0069,"e":-2.9},{"x":0.0369,"y":-0.0069,"e":-3.1},{"x":0.0431,"y":-0.0069,"e":-3.8},{"x":0.0494,"y":-0.0069,"e":-4},{"x":0.0556,"y":-0.0069,"e":-4},{"x":0.0619,"y":-0.0069,"e":-4.2},{"x":0.0681,"y":-0.0069,"e":-4.2},{"x":0.0744,"y":-0.0069,"e":-5},{"x":0.0806,"y":-0.0069,"e":-5},{"x":0.0869,"y":-0.0069,"e":-5},{"x":0.0931,"y":-0.0069,"e":-5},{"x":0.1306,"y":-0.0069,"e":-5.3},
{"x":-0.1444,"y":-0.0131,"e":-5.5},{"x":-0.1381,"y":-0.0131,"e":-5.1},{"x":-0.1319,"y":-0.0131,"e":-5.6},{"x":-0.1069,"y":-0.0131,"e":-5},{"x":-0.0944,"y":-0.0131,"e":-4.4},{"x":-0.0819,"y":-0.0131,"e":-5},{"x":-0.0756,"y":-0.0131,"e":-4.6},{"x":-0.0694,"y":-0.0131,"e":-4.3},{"x":-0.0631,"y":-0.0131,"e":-5},{"x":-0.0569,"y":-0.0131,"e":-4.5},{"x":-0.0506,"y":-0.0131,"e":-4.2},{"x":-0.0444,"y":-0.0131,"e":-4},{"x":-0.0381,"y":-0.0131,"e":-3.9},{"x":-0.0319,"y":-0.0131,"e":-3.5},{"x":-0.0256,"y":-0.0131,"e":-3.5},{"x":-0.0194,"y":-0.0131,"e":-3.2},{"x":-0.0131,"y":-0.0131,"e":-2.9},{"x":-0.0069,"y":-0.0131,"e":-2.8},{"x":-0.0006,"y":-0.0131,"e":-2.4},{"x":0.0056,"y":-0.0131,"e":-2.2},{"x":0.0119,"y":-0.0131,"e":-2.7},{"x":0.0181,"y":-0.0131,"e":-2.9},{"x":0.0244,"y":-0.0131,"e":-3},{"x":0.0306,"y":-0.0131,"e":-3},{"x":0.0369,"y":-0.0131,"e":-3.7},{"x":0.0431,"y":-0.0131,"e":-3.9},{"x":0.0494,"y":-0.0131,"e":-3.5},{"x":0.0556,"y":-0.0131,"e":-4.5},{"x":0.0619,"y":-0.0131,"e":-5.3},{"x":0.0681,"y":-0.0131,"e":-4.8},{"x":0.0744,"y":-0.0131,"e":-5},{"x":0.0806,"y":-0.0131,"e":-5},{"x":0.0869,"y":-0.0131,"e":-4.9},{"x":0.0931,"y":-0.0131,"e":-4.5},{"x":0.0994,"y":-0.0131,"e":-5.4},{"x":0.1056,"y":-0.0131,"e":-5.4},{"x":0.1306,"y":-0.0131,"e":-5.1},{"x":0.1369,"y":-0.0131,"e":-5.1},
{"x":-0.1444,"y":-0.0194,"e":-5.5},{"x":-0.1131,"y":-0.0194,"e":-5.2},{"x":-0.1006,"y":-0.0194,"e":-5.2},{"x":-0.0881,"y":-0.0194,"e":-5},{"x":-0.0819,"y":-0.0194,"e":-4.5},{"x":-0.0756,"y":-0.0194,"e":-5.6},{"x":-0.0694,"y":-0.0194,"e":-5.4},{"x":-0.0631,"y":-0.0194,"e":-4.2},{"x":-0.0569,"y":-0.0194,"e":-5},{"x":-0.0506,"y":-0.0194,"e":-4.4},{"x":-0.0444,"y":-0.0194,"e":-4},{"x":-0.0381,"y":-0.0194,"e":-3.7},{"x":-0.0319,"y":-0.0194,"e":-3.8},{"x":-0.0256,"y":-0.0194,"e":-3.7},{"x":-0.0194,"y":-0.0194,"e":-3.1},{"x":-0.0131,"y":-0.0194,"e":-3},{"x":-0.0069,"y":-0.0194,"e":-2.8},{"x":-0.0006,"y":-0.0194,"e":-2.6},{"x":0.0056,"y":-0.0194,"e":-2.6},{"x":0.0119,"y":-0.0194,"e":-2.7},{"x":0.0181,"y":-0.0194,"e":-3},{"x":0.0244,"y":-0.0194,"e":-3},{"x":0.0306,"y":-0.0194,"e":-3.6},{"x":0.0369,"y":-0.0194,"e":-3.8},{"x":0.0431,"y":-0.0194,"e":-3.7},{"x":0.0494,"y":-0.0194,"e":-3.5},{"x":0.0556,"y":-0.0194,"e":-3.5},{"x":0.0619,"y":-0.0194,"e":-4.4},{"x":0.0681,"y":-0.0194,"e":-4.3},{"x":0.0744,"y":-0.0194,"e":-6.2},{"x":0.0806,"y":-0.0194,"e":-4.2},{"x":0.0869,"y":-0.0194,"e":-5.1},{"x":0.0994,"y":-0.0194,"e":-4.7},{"x":0.1056,"y":-0.0194,"e":-6.3},{"x":0.1119,"y":-0.0194,"e":-5.4},{"x":0.1181,"y":-0.0194,"e":-6.9},{"x":0.1369,"y":-0.0194,"e":-5},
{"x":-0.1131,"y":-0.0256,"e":-5.3},{"x":-0.1006,"y":-0.0256,"e":-5.2},{"x":-0.0944,"y":-0.0256,"e":-5},{"x":-0.0881,"y":-0.0256,"e":-5},{"x":-0.0819,"y":-0.0256,"e":-5.5},{"x":-0.0756,"y":-0.0256,"e":-4.6},{"x":-0.0694,"y":-0.0256,"e":-4.6},{"x":-0.0631,"y":-0.0256,"e":-4.7},{"x":-0.0569,"y":-0.0256,"e":-5},{"x":-0.0506,"y":-0.0256,"e":-4.6},{"x":-0.0444,"y":-0.0256,"e":-3.8},{"x":-0.0381,"y":-0.0256,"e":-3.2},{"x":-0.0319,"y":-0.0256,"e":-4},{"x":-0.0256,"y":-0.0256,"e":-4},{"x":-0.0194,"y":-0.0256,"e":-3.6},{"x":-0.0131,"y":-0.0256,"e":-3.4},{"x":-0.0069,"y":-0.0256,"e":-2.9},{"x":-0.0006,"y":-0.0256,"e":-2.9},{"x":0.0056,"y":-0.0256,"e":-2.8},{"x":0.0119,"y":-0.0256,"e":-3.1},{"x":0.0181,"y":-0.0256,"e":-2.7},{"x":0.0244,"y":-0.0256,"e":-3.8},{"x":0.0306,"y":-0.0256,"e":-3.7},{"x":0.0369,"y":-0.0256,"e":-3.7},{"x":0.0431,"y":-0.0256,"e":-4.5},{"x":0.0494,"y":-0.0256,"e":-3.7},{"x":0.0556,"y":-0.0256,"e":-3.4},{"x":0.0619,"y":-0.0256,"e":-4.4},{"x":0.0681,"y":-0.0256,"e":-5},{"x":0.0744,"y":-0.0256,"e":-4.6},{"x":0.0806,"y":-0.0256,"e":-4.6},{"x":0.0869,"y":-0.0256,"e":-5.5},{"x":0.0931,"y":-0.0256,"e":-4.6},{"x":0.1056,"y":-0.0256,"e":-6},{"x":0.1244,"y":-0.0256,"e":-4.8},{"x":0.1369,"y":-0.0256,"e":-5},{"x":0.1431,"y":-0.0256,"e":-4.6},{"x":0.1494,"y":-0.0256,"e":-5.8},
{"x":-0.0944,"y":-0.0319,"e":-4.9},{"x":-0.0881,"y":-0.0319,"e":-4.9},{"x":-0.0819,"y":-0.0319,"e":-5.4},{"x":-0.0756,"y":-0.0319,"e":-4.7},{"x":-0.0694,"y":-0.0319,"e":-4.7},{"x":-0.0631,"y":-0.0319,"e":-4.4},{"x":-0.0569,"y":-0.0319,"e":-4.4},{"x":-0.0506,"y":-0.0319,"e":-4.5},{"x":-0.0444,"y":-0.0319,"e":-4.2},{"x":-0.0381,"y":-0.0319,"e":-4},{"x":-0.0319,"y":-0.0319,"e":-4},{"x":-0.0256,"y":-0.0319,"e":-4},{"x":-0.0194,"y":-0.0319,"e":-3.5},{"x":-0.0131,"y":-0.0319,"e":-3.6},{"x":-0.0069,"y":-0.0319,"e":-3.6},{"x":-0.0006,"y":-0.0319,"e":-3.4},{"x":0.0056,"y":-0.0319,"e":-3.4},{"x":0.0119,"y":-0.0319,"e":-3.4},{"x":0.0181,"y":-0.0319,"e":-3.7},{"x":0.0244,"y":-0.0319,"e":-3.5},{"x":0.0306,"y":-0.0319,"e":-3.6},{"x":0.0369,"y":-0.0319,"e":-3.5},{"x":0.0431,"y":-0.0319,"e":-3.6},{"x":0.0494,"y":-0.0319,"e":-3.5},{"x":0.0556,"y":-0.0319,"e":-3.8},{"x":0.0619,"y":-0.0319,"e":-4.6},{"x":0.0681,"y":-0.0319,"e":-5.4},{"x":0.0744,"y":-0.0319,"e":-5.4},{"x":0.0806,"y":-0.0319,"e":-5.3},{"x":0.0869,"y":-0.0319,"e":-5.4},{"x":0.0931,"y":-0.0319,"e":-5.4},{"x":0.0994,"y":-0.0319,"e":-4.4},{"x":0.1119,"y":-0.0319,"e":-4.9},{"x":0.1244,"y":-0.0319,"e":-5},{"x":0.1306,"y":-0.0319,"e":-4.9},{"x":0.1431,"y":-0.0319,"e":-5.5},{"x":0.1494,"y":-0.0319,"e":-5},
{"x":-0.0944,"y":-0.0381,"e":-5.2},{"x":-0.0881,"y":-0.0381,"e":-5.2},{"x":-0.0819,"y":-0.0381,"e":-5.5},{"x":-0.0756,"y":-0.0381,"e":-5.5},{"x":-0.0694,"y":-0.0381,"e":-4.2},{"x":-0.0631,"y":-0.0381,"e":-4.6},{"x":-0.0569,"y":-0.0381,"e":-4.6},{"x":-0.0506,"y":-0.0381,"e":-4.2},{"x":-0.0444,"y":-0.0381,"e":-5},{"x":-0.0381,"y":-0.0381,"e":-4.4},{"x":-0.0319,"y":-0.0381,"e":-4.4},{"x":-0.0256,"y":-0.0381,"e":-4},{"x":-0.0194,"y":-0.0381,"e":-3.8},{"x":-0.0131,"y":-0.0381,"e":-3.5},{"x":-0.0069,"y":-0.0381,"e":-3.4},{"x":-0.0006,"y":-0.0381,"e":-3.5},{"x":0.0056,"y":-0.0381,"e":-3.5},{"x":0.0119,"y":-0.0381,"e":-3.5},{"x":0.0181,"y":-0.0381,"e":-4.2},{"x":0.0244,"y":-0.0381,"e":-4.1},{"x":0.0306,"y":-0.0381,"e":-4},{"x":0.0369,"y":-0.0381,"e":-4.1},{"x":0.0431,"y":-0.0381,"e":-4.2},{"x":0.0494,"y":-0.0381,"e":-3.7},{"x":0.0556,"y":-0.0381,"e":-5.2},{"x":0.0619,"y":-0.0381,"e":-5},{"x":0.0681,"y":-0.0381,"e":-5},{"x":0.0744,"y":-0.0381,"e":-6.1},{"x":0.0994,"y":-0.0381,"e":-5.1},{"x":0.1056,"y":-0.0381,"e":-5.1},{"x":0.1244,"y":-0.0381,"e":-4.8},{"x":0.1369,"y":-0.0381,"e":-6.4},
{"x":-0.0819,"y":-0.0444,"e":-4.7},{"x":-0.0694,"y":-0.0444,"e":-4.8},{"x":-0.0631,"y":-0.0444,"e":-4.8},{"x":-0.0569,"y":-0.0444,"e":-4.8},{"x":-0.0506,"y":-0.0444,"e":-5},{"x":-0.0444,"y":-0.0444,"e":-5},{"x":-0.0381,"y":-0.0444,"e":-4.9},{"x":-0.0319,"y":-0.0444,"e":-4.2},{"x":-0.0256,"y":-0.0444,"e":-4.1},{"x":-0.0194,"y":-0.0444,"e":-3.3},{"x":-0.0131,"y":-0.0444,"e":-3.8},{"x":-0.0069,"y":-0.0444,"e":-3.9},{"x":-0.0006,"y":-0.0444,"e":-3.7},{"x":0.0056,"y":-0.0444,"e":-3.8},{"x":0.0119,"y":-0.0444,"e":-3.9},{"x":0.0181,"y":-0.0444,"e":-4},{"x":0.0244,"y":-0.0444,"e":-3.9},{"x":0.0306,"y":-0.0444,"e":-4.6},{"x":0.0369,"y":-0.0444,"e":-4.4},{"x":0.0431,"y":-0.0444,"e":-4.7},{"x":0.0494,"y":-0.0444,"e":-3.9},{"x":0.0556,"y":-0.0444,"e":-5.1},{"x":0.0619,"y":-0.0444,"e":-5.4},{"x":0.0681,"y":-0.0444,"e":-5.5},{"x":0.0744,"y":-0.0444,"e":-4.7},{"x":0.0806,"y":-0.0444,"e":-4.1},{"x":0.0869,"y":-0.0444,"e":-4.8},{"x":0.0994,"y":-0.0444,"e":-4.2},{"x":0.1056,"y":-0.0444,"e":-5.8},{"x":0.1119,"y":-0.0444,"e":-5},{"x":0.1181,"y":-0.0444,"e":-5},{"x":0.1244,"y":-0.0444,"e":-4.4},{"x":0.1306,"y":-0.0444,"e":-5},
{"x":-0.1131,"y":-0.0506,"e":-5.3},{"x":-0.1069,"y":-0.0506,"e":-5.9},{"x":-0.1006,"y":-0.0506,"e":-5.1},{"x":-0.0819,"y":-0.0506,"e":-5},{"x":-0.0756,"y":-0.0506,"e":-4.4},{"x":-0.0694,"y":-0.0506,"e":-5},{"x":-0.0631,"y":-0.0506,"e":-4.8},{"x":-0.0569,"y":-0.0506,"e":-4.5},{"x":-0.0506,"y":-0.0506,"e":-4.8},{"x":-0.0444,"y":-0.0506,"e":-4.4},{"x":-0.0381,"y":-0.0506,"e":-4.8},{"x":-0.0319,"y":-0.0506,"e":-3.8},{"x":-0.0256,"y":-0.0506,"e":-4.1},{"x":-0.0194,"y":-0.0506,"e":-4},{"x":-0.0131,"y":-0.0506,"e":-3.8},{"x":-0.0069,"y":-0.0506,"e":-3.7},{"x":-0.0006,"y":-0.0506,"e":-4},{"x":0.0056,"y":-0.0506,"e":-4.2},{"x":0.0119,"y":-0.0506,"e":-4.2},{"x":0.0181,"y":-0.0506,"e":-3.8},{"x":0.0244,"y":-0.0506,"e":-4.1},{"x":0.0306,"y":-0.0506,"e":-4},{"x":0.0369,"y":-0.0506,"e":-4.7},{"x":0.0431,"y":-0.0506,"e":-4.7},{"x":0.0494,"y":-0.0506,"e":-5},{"x":0.0556,"y":-0.0506,"e":-5.2},{"x":0.0619,"y":-0.0506,"e":-4.2},{"x":0.0681,"y":-0.0506,"e":-5.6},{"x":0.0744,"y":-0.0506,"e":-5},{"x":0.0806,"y":-0.0506,"e":-5},{"x":0.0869,"y":-0.0506,"e":-5},{"x":0.0931,"y":-0.0506,"e":-4.9},{"x":0.0994,"y":-0.0506,"e":-4.3},{"x":0.1119,"y":-0.0506,"e":-7.6},{"x":0.1244,"y":-0.0506,"e":-7.8},{"x":0.1494,"y":-0.0506,"e":-6.9},
{"x":-0.1006,"y":-0.0569,"e":-5},{"x":-0.0881,"y":-0.0569,"e":-5.5},{"x":-0.0819,"y":-0.0569,"e":-5},{"x":-0.0694,"y":-0.0569,"e":-5},{"x":-0.0631,"y":-0.0569,"e":-4.6},{"x":-0.0569,"y":-0.0569,"e":-4.4},{"x":-0.0506,"y":-0.0569,"e":-3.9},{"x":-0.0444,"y":-0.0569,"e":-4.7},{"x":-0.0381,"y":-0.0569,"e":-4.2},{"x":-0.0319,"y":-0.0569,"e":-4.3},{"x":-0.0256,"y":-0.0569,"e":-4.4},{"x":-0.0194,"y":-0.0569,"e":-4.6},{"x":-0.0131,"y":-0.0569,"e":-4},{"x":-0.0069,"y":-0.0569,"e":-4.2},{"x":-0.0006,"y":-0.0569,"e":-3.1},{"x":0.0056,"y":-0.0569,"e":-4.3},{"x":0.0119,"y":-0.0569,"e":-4.9},{"x":0.0181,"y":-0.0569,"e":-5.2},{"x":0.0244,"y":-0.0569,"e":-4.4},{"x":0.0306,"y":-0.0569,"e":-3.7},{"x":0.0369,"y":-0.0569,"e":-4.1},{"x":0.0431,"y":-0.0569,"e":-5},{"x":0.0494,"y":-0.0569,"e":-4.2},{"x":0.0556,"y":-0.0569,"e":-8},{"x":0.0619,"y":-0.0569,"e":-5.9},{"x":0.0681,"y":-0.0569,"e":-5.3},{"x":0.0806,"y":-0.0569,"e":-4.5},{"x":0.0869,"y":-0.0569,"e":-4.6},
{"x":-0.1381,"y":-0.0631,"e":-6.2},{"x":-0.0944,"y":-0.0631,"e":-4.6},{"x":-0.0881,"y":-0.0631,"e":-5.7},{"x":-0.0819,"y":-0.0631,"e":-4.9},{"x":-0.0756,"y":-0.0631,"e":-5},{"x":-0.0569,"y":-0.0631,"e":-5},{"x":-0.0506,"y":-0.0631,"e":-4.6},{"x":-0.0444,"y":-0.0631,"e":-4.6},{"x":-0.0381,"y":-0.0631,"e":-4.4},{"x":-0.0319,"y":-0.0631,"e":-4.6},{"x":-0.0256,"y":-0.0631,"e":-4},{"x":-0.0194,"y":-0.0631,"e":-4.2},{"x":-0.0131,"y":-0.0631,"e":-4},{"x":-0.0069,"y":-0.0631,"e":-4.1},{"x":-0.0006,"y":-0.0631,"e":-5},{"x":0.0056,"y":-0.0631,"e":-4.8},{"x":0.0181,"y":-0.0631,"e":-4.8},{"x":0.0244,"y":-0.0631,"e":-4.5},{"x":0.0306,"y":-0.0631,"e":-4.2},{"x":0.0369,"y":-0.0631,"e":-4.1},{"x":0.0431,"y":-0.0631,"e":-4.2},{"x":0.0494,"y":-0.0631,"e":-4.8},{"x":0.0556,"y":-0.0631,"e":-4.9},{"x":0.0619,"y":-0.0631,"e":-4.4},{"x":0.0681,"y":-0.0631,"e":-4.4},{"x":0.0744,"y":-0.0631,"e":-5},{"x":0.0806,"y":-0.0631,"e":-5},{"x":0.0931,"y":-0.0631,"e":-4.7},{"x":0.1056,"y":-0.0631,"e":-4.9},{"x":0.1181,"y":-0.0631,"e":-4.9},{"x":0.1431,"y":-0.0631,"e":-4.9},
{"x":-0.0881,"y":-0.0694,"e":-4.6},{"x":-0.0756,"y":-0.0694,"e":-4.9},{"x":-0.0569,"y":-0.0694,"e":-3.9},{"x":-0.0506,"y":-0.0694,"e":-4.6},{"x":-0.0444,"y":-0.0694,"e":-4.4},{"x":-0.0381,"y":-0.0694,"e":-5.2},{"x":-0.0319,"y":-0.0694,"e":-3.9},{"x":-0.0256,"y":-0.0694,"e":-4},{"x":-0.0194,"y":-0.0694,"e":-4},{"x":-0.0131,"y":-0.0694,"e":-5.3},{"x":-0.0069,"y":-0.0694,"e":-4.1},{"x":-0.0006,"y":-0.0694,"e":-4.6},{"x":0.0056,"y":-0.0694,"e":-4.2},{"x":0.0119,"y":-0.0694,"e":-4.7},{"x":0.0181,"y":-0.0694,"e":-4.9},{"x":0.0244,"y":-0.0694,"e":-5.5},{"x":0.0306,"y":-0.0694,"e":-4.8},{"x":0.0369,"y":-0.0694,"e":-5},{"x":0.0431,"y":-0.0694,"e":-5.6},{"x":0.0494,"y":-0.0694,"e":-4},{"x":0.0619,"y":-0.0694,"e":-5.4},{"x":0.0681,"y":-0.0694,"e":-5},{"x":0.0806,"y":-0.0694,"e":-5.1},
{"x":-0.0694,"y":-0.0756,"e":-5.1},{"x":-0.0631,"y":-0.0756,"e":-5.8},{"x":-0.0569,"y":-0.0756,"e":-5.5},{"x":-0.0506,"y":-0.0756,"e":-5.4},{"x":-0.0444,"y":-0.0756,"e":-5.3},{"x":-0.0381,"y":-0.0756,"e":-6.9},{"x":-0.0319,"y":-0.0756,"e":-4.5},{"x":-0.0256,"y":-0.0756,"e":-4.6},{"x":-0.0194,"y":-0.0756,"e":-4.3},{"x":-0.0131,"y":-0.0756,"e":-4.3},{"x":-0.0069,"y":-0.0756,"e":-4.9},{"x":-0.0006,"y":-0.0756,"e":-4},{"x":0.0056,"y":-0.0756,"e":-5},{"x":0.0119,"y":-0.0756,"e":-4},{"x":0.0244,"y":-0.0756,"e":-4.6},{"x":0.0306,"y":-0.0756,"e":-4.6},{"x":0.0369,"y":-0.0756,"e":-5.3},{"x":0.0494,"y":-0.0756,"e":-5.1},{"x":0.0556,"y":-0.0756,"e":-4.8},{"x":0.0619,"y":-0.0756,"e":-4.4},{"x":0.0681,"y":-0.0756,"e":-5.2},{"x":0.0806,"y":-0.0756,"e":-4.9},{"x":0.0869,"y":-0.0756,"e":-5.6},{"x":0.0931,"y":-0.0756,"e":-5.2},{"x":0.0994,"y":-0.0756,"e":-4.4},{"x":0.1244,"y":-0.0756,"e":-5.2},
{"x":-0.1319,"y":-0.0819,"e":-4.3},{"x":-0.1256,"y":-0.0819,"e":-5.5},{"x":-0.0694,"y":-0.0819,"e":-4.7},{"x":-0.0631,"y":-0.0819,"e":-4.3},{"x":-0.0569,"y":-0.0819,"e":-5},{"x":-0.0506,"y":-0.0819,"e":-4.9},{"x":-0.0444,"y":-0.0819,"e":-4.7},{"x":-0.0381,"y":-0.0819,"e":-5},{"x":-0.0319,"y":-0.0819,"e":-5.2},{"x":-0.0256,"y":-0.0819,"e":-5.4},{"x":-0.0194,"y":-0.0819,"e":-4.6},{"x":-0.0131,"y":-0.0819,"e":-4.8},{"x":-0.0069,"y":-0.0819,"e":-4.6},{"x":-0.0006,"y":-0.0819,"e":-4.6},{"x":0.0056,"y":-0.0819,"e":-4.9},{"x":0.0119,"y":-0.0819,"e":-4.9},{"x":0.0181,"y":-0.0819,"e":-4.9},{"x":0.0244,"y":-0.0819,"e":-5},{"x":0.0306,"y":-0.0819,"e":-5.6},{"x":0.0369,"y":-0.0819,"e":-4.7},{"x":0.0431,"y":-0.0819,"e":-4.6},{"x":0.0494,"y":-0.0819,"e":-5.3},{"x":0.0556,"y":-0.0819,"e":-5},{"x":0.0619,"y":-0.0819,"e":-4.9},{"x":0.0681,"y":-0.0819,"e":-4.8},{"x":0.0806,"y":-0.0819,"e":-5},{"x":0.0869,"y":-0.0819,"e":-4.7},{"x":0.0931,"y":-0.0819,"e":-6.8},{"x":0.1119,"y":-0.0819,"e":-5},{"x":0.1181,"y":-0.0819,"e":-4.2},{"x":0.1244,"y":-0.0819,"e":-5.5},
{"x":-0.1131,"y":-0.0881,"e":-5.4},{"x":-0.1069,"y":-0.0881,"e":-5.9},{"x":-0.0694,"y":-0.0881,"e":-4.5},{"x":-0.0631,"y":-0.0881,"e":-5},{"x":-0.0569,"y":-0.0881,"e":-4.4},{"x":-0.0506,"y":-0.0881,"e":-5},{"x":-0.0381,"y":-0.0881,"e":-4.7},{"x":-0.0319,"y":-0.0881,"e":-4.4},{"x":-0.0256,"y":-0.0881,"e":-5.6},{"x":-0.0194,"y":-0.0881,"e":-4.6},{"x":-0.0131,"y":-0.0881,"e":-4.4},{"x":-0.0069,"y":-0.0881,"e":-5.5},{"x":-0.0006,"y":-0.0881,"e":-4.5},{"x":0.0056,"y":-0.0881,"e":-4.7},{"x":0.0119,"y":-0.0881,"e":-5.5},{"x":0.0306,"y":-0.0881,"e":-5},{"x":0.0369,"y":-0.0881,"e":-4.5},{"x":0.0431,"y":-0.0881,"e":-3.9},{"x":0.0494,"y":-0.0881,"e":-4.4},{"x":0.0806,"y":-0.0881,"e":-6.7},{"x":0.1431,"y":-0.0881,"e":-7.6},
{"x":-0.1069,"y":-0.0944,"e":-4.3},{"x":-0.0631,"y":-0.0944,"e":-5},{"x":-0.0569,"y":-0.0944,"e":-5.2},{"x":-0.0381,"y":-0.0944,"e":-6},{"x":-0.0319,"y":-0.0944,"e":-4.8},{"x":-0.0256,"y":-0.0944,"e":-4.4},{"x":-0.0194,"y":-0.0944,"e":-4.1},{"x":-0.0069,"y":-0.0944,"e":-5.3},{"x":-0.0006,"y":-0.0944,"e":-4.5},{"x":0.0056,"y":-0.0944,"e":-5.5},{"x":0.0181,"y":-0.0944,"e":-6},{"x":0.0244,"y":-0.0944,"e":-5},{"x":0.0369,"y":-0.0944,"e":-4.2},{"x":0.0681,"y":-0.0944,"e":-5},{"x":0.0744,"y":-0.0944,"e":-5},{"x":0.0806,"y":-0.0944,"e":-4.4},
{"x":-0.0569,"y":-0.1006,"e":-4.6},{"x":-0.0256,"y":-0.1006,"e":-4.5},{"x":-0.0194,"y":-0.1006,"e":-4.4},{"x":-0.0131,"y":-0.1006,"e":-4.4},{"x":-0.0069,"y":-0.1006,"e":-4.6},{"x":0.0056,"y":-0.1006,"e":-4.6},{"x":0.0181,"y":-0.1006,"e":-5},{"x":0.0244,"y":-0.1006,"e":-5},{"x":0.0369,"y":-0.1006,"e":-5.1},{"x":0.0556,"y":-0.1006,"e":-4.9},{"x":0.0619,"y":-0.1006,"e":-4.7},
{"x":-0.0569,"y":-0.1069,"e":-5.3},{"x":-0.0319,"y":-0.1069,"e":-5},{"x":-0.0256,"y":-0.1069,"e":-4.9},{"x":-0.0069,"y":-0.1069,"e":-5},{"x":-0.0006,"y":-0.1069,"e":-5},{"x":0.0056,"y":-0.1069,"e":-5.1},{"x":0.0181,"y":-0.1069,"e":-5.6},{"x":0.0244,"y":-0.1069,"e":-4.7},{"x":0.0494,"y":-0.1069,"e":-5.3},{"x":0.0619,"y":-0.1069,"e":-5.4},
{"x":-0.0319,"y":-0.1131,"e":-5},{"x":-0.0256,"y":-0.1131,"e":-6},{"x":-0.0194,"y":-0.1131,"e":-5},{"x":-0.0069,"y":-0.1131,"e":-4.6},{"x":-0.0006,"y":-0.1131,"e":-5.6},{"x":0.0056,"y":-0.1131,"e":-5.2},{"x":0.0181,"y":-0.1131,"e":-5},{"x":0.0369,"y":-0.1131,"e":-4.5},{"x":0.0431,"y":-0.1131,"e":-4.2},{"x":0.0681,"y":-0.1131,"e":-4.8},{"x":0.0806,"y":-0.1131,"e":-7},{"x":0.0869,"y":-0.1131,"e":-5.3},
{"x":-0.0881,"y":-0.1194,"e":-4.6},{"x":-0.0256,"y":-0.1194,"e":-4.9},{"x":-0.0006,"y":-0.1194,"e":-5.5},{"x":0.0181,"y":-0.1194,"e":-5},{"x":0.0369,"y":-0.1194,"e":-5},{"x":0.0431,"y":-0.1194,"e":-5.3},{"x":0.0619,"y":-0.1194,"e":-6.3},{"x":0.0744,"y":-0.1194,"e":-7.8},{"x":0.0806,"y":-0.1194,"e":-4.8},{"x":0.0869,"y":-0.1194,"e":-5},{"x":0.0931,"y":-0.1194,"e":-6.2},{"x":0.0994,"y":-0.1194,"e":-4.9},
{"x":-0.0569,"y":-0.1256,"e":-7.5},{"x":-0.0069,"y":-0.1256,"e":-4.7},{"x":-0.0006,"y":-0.1256,"e":-5},{"x":0.0056,"y":-0.1256,"e":-4.8},{"x":0.0119,"y":-0.1256,"e":-7.8},{"x":0.0244,"y":-0.1256,"e":-7.3},{"x":0.0869,"y":-0.1256,"e":-4.9},
{"x":-0.0506,"y":-0.1319,"e":-5.5},{"x":-0.0381,"y":-0.1319,"e":-5.3},{"x":-0.0319,"y":-0.1319,"e":-6},{"x":-0.0256,"y":-0.1319,"e":-5},{"x":-0.0069,"y":-0.1319,"e":-7.5},{"x":0.0056,"y":-0.1319,"e":-4.6},{"x":0.0619,"y":-0.1319,"e":-7.5},{"x":0.0681,"y":-0.1319,"e":-5},
{"x":-0.0131,"y":-0.1381,"e":-7.7},{"x":0.0306,"y":-0.1381,"e":-7.5},{"x":0.0744,"y":-0.1381,"e":-5},{"x":0.1244,"y":-0.1381,"e":-6.7},
{"x":-0.0069,"y":-0.1444,"e":-5.6},{"x":0.0369,"y":-0.1444,"e":-5.8},{"x":0.0806,"y":-0.1444,"e":-5.3},{"x":0.0931,"y":-0.1444,"e":-7.5},{"x":0.1119,"y":-0.1444,"e":-6.8},{"x":0.1181,"y":-0.1444,"e":-7.4}
]},"mark":{"type":"rect","width":10.6,"height":10.6},"encoding":{"x":{"field":"x","type":"quantitative","scale":{"domain":[-0.1474,0.1523],"nice":false,"zero":false},"axis":{"values":[-0.1,0,0.1],"format":".1f","grid":false,"domain":false,"tickSize":5,"tickColor":"#555","labelFont":"DejaVu Sans","labelFontSize":35,"labelColor":"#111","labelPadding":5,"title":"η","titleFont":"DejaVu Sans","titleFontStyle":"italic","titleFontWeight":"normal","titleFontSize":36,"titleColor":"#111","titlePadding":4}},"y":{"field":"y","type":"quantitative","scale":{"domain":[-0.1472,0.1528],"nice":false,"zero":false},"axis":{"values":[-0.1,0,0.1],"format":".1f","grid":false,"domain":false,"tickSize":5,"tickColor":"#555","labelFont":"DejaVu Sans","labelFontSize":35,"labelColor":"#111","labelPadding":4,"title":"ϕ","titleFont":"DejaVu Sans","titleFontStyle":"italic","titleFontWeight":"normal","titleFontSize":38,"titleColor":"#111","titlePadding":6}},"color":{"field":"e","type":"quantitative","scale":{"scheme":"viridis","domain":[-8.61,-0.55]},"legend":{"orient":"none","legendX":509,"legendY":-2,"direction":"vertical","gradientLength":490,"gradientThickness":25,"gradientStrokeColor":"#555","gradientStrokeWidth":1,"values":[-1,-4,-7],"labelExpr":"datum.value==-1?'10⁻¹':datum.value==-4?'10⁻⁴':'10⁻⁷'","labelFont":"DejaVu Sans","labelFontSize":34,"labelColor":"#111","labelOffset":7,"title":"log(E)","titleFont":"DejaVu Sans","titleFontWeight":"normal","titleFontSize":36,"titleColor":"#111","titleOrient":"right","titleAnchor":"middle","titlePadding":20,"encode":{"labels":{"update":{"dy":{"value":3}}},"title":{"update":{"angle":{"value":270},"baseline":{"value":"top"}}}}}}}}
